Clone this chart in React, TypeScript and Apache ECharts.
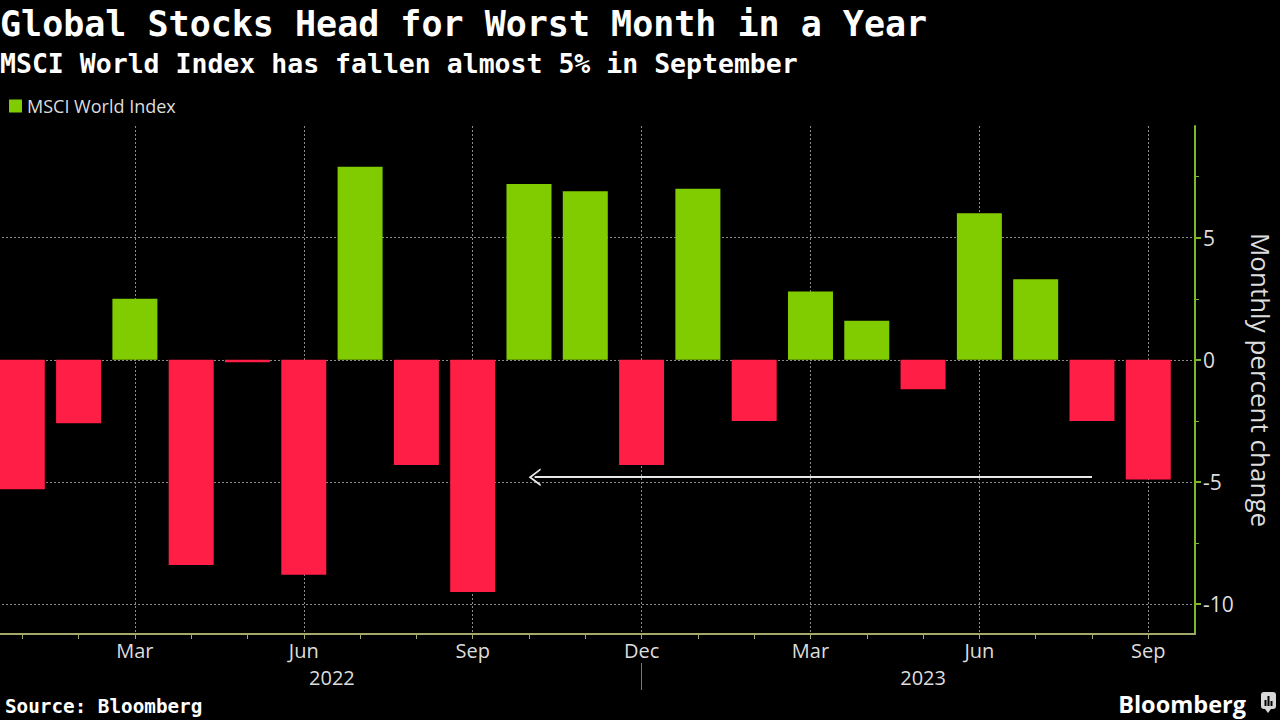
import React, { useEffect, useRef } from "react";
import * as echarts from "echarts";

// ---- data ----
const monthNames = ["Jan", "Feb", "Mar", "Apr", "May", "Jun", "Jul", "Aug", "Sep", "Oct", "Nov", "Dec",
  "Jan", "Feb", "Mar", "Apr", "May", "Jun", "Jul", "Aug", "Sep"];
const monthYears = ["2022", "2022", "2022", "2022", "2022", "2022", "2022", "2022", "2022", "2022", "2022", "2022",
  "2023", "2023", "2023", "2023", "2023", "2023", "2023", "2023", "2023"];
const monthlyChange = [-5.3, -2.6, 2.5, -8.4, -0.1, -8.8, 7.9, -4.3, -9.5, 7.2, 6.9, -4.3,
  7.0, -2.5, 2.8, 1.6, -1.2, 6.0, 3.3, -2.5, -4.9];
const quarterMonths = ["Mar", "Jun", "Sep", "Dec"];
const yearLabels = ["2022", "2023"];
const yMinorTicks = [-7.5, -2.5, 2.5, 7.5];
const yMin = -11.22;
const yMax = 9.57;
const xMin = -1;
const xMax = 20.83;
// annotation arrow (from Jul 2023 back to Sep 2022, at about -4.8)
const arrowFrom = 19.0;
const arrowTo = 9.1;
const arrowLevel = -4.8;

const GREEN = "#80cc00";
const RED = "#ff1e46";
const FONT = "'Open Sans', 'Noto Sans', sans-serif";
const MONO = "'DejaVu Sans Mono', 'Liberation Mono', monospace";

// year centers and separator derived from data
const yearCenters = yearLabels.map((y) => {
  const idx = monthYears.map((m, i) => (m === y ? i : -1)).filter((i) => i >= 0);
  return (idx[0] + idx[idx.length - 1]) / 2;
});
const yearSeparators = yearLabels.slice(0, -1).map((y) => monthYears.lastIndexOf(y));

export default function App() {
  const ref = useRef<HTMLDivElement>(null);
  useEffect(() => {
    if (!ref.current) return;
    const chart = echarts.init(ref.current, null, { renderer: "svg" });
    const option: any = {
      animation: false,
      backgroundColor: "#000000",
      title: [
        {
          text: "Global Stocks Head for Worst Month in a Year",
          left: 0, top: 6, padding: 0,
          textStyle: { color: "#ffffff", fontSize: 35, fontWeight: "bold", fontFamily: MONO },
        },
        {
          text: "MSCI World Index has fallen almost 5% in September",
          left: 0, top: 50, padding: 0,
          textStyle: { color: "#ffffff", fontSize: 26.5, fontWeight: "bold", fontFamily: MONO },
        },
      ],
      legend: {
        left: 9, top: 97, padding: 0,
        icon: "rect", itemWidth: 13, itemHeight: 13,
        textStyle: { color: "#dddddd", fontSize: 18, fontFamily: FONT },
        data: ["MSCI World Index"],
      },
      grid: { left: -34, right: 85, top: 126, bottom: 86, outerBoundsMode: "none" },
      xAxis: [
        {
          type: "value", min: xMin, max: xMax, interval: 1, position: "bottom",
          axisLine: { show: true, onZero: false, lineStyle: { color: "#a3a868", width: 2 } },
          axisTick: { show: true, length: 5, lineStyle: { color: "#a3a868" } },
          axisLabel: {
            margin: 6, color: "#dddddd", fontSize: 20, fontFamily: FONT,
            showMinLabel: false, showMaxLabel: false,
            formatter: (v: number) => {
              const i = Math.round(v);
              if (Math.abs(v - i) > 1e-6 || i < 0 || i >= monthNames.length) return "";
              return quarterMonths.includes(monthNames[i]) ? monthNames[i] : "";
            },
          },
          splitLine: { show: false },
        },
        {
          type: "value", min: xMin, max: xMax, interval: 3, position: "bottom",
          axisLine: { show: false, onZero: false },
          axisTick: { show: false },
          axisLabel: { show: false },
          splitLine: {
            show: true, showMinLine: false, showMaxLine: false,
            lineStyle: { color: "#8a8a8a", type: [2, 2], width: 1 },
          },
        },
        {
          type: "value", min: xMin, max: xMax, position: "bottom", offset: 29,
          axisLine: { show: false, onZero: false },
          axisTick: { show: true, customValues: yearSeparators, length: 27, lineStyle: { color: "#777777" } },
          axisLabel: {
            show: true, customValues: yearCenters, margin: 4,
            color: "#dddddd", fontSize: 20, fontFamily: FONT,
            formatter: (v: number) => {
              const k = yearCenters.findIndex((c) => Math.abs(c - v) < 1e-6);
              return k >= 0 ? yearLabels[k] : "";
            },
          },
          splitLine: { show: false },
        },
      ],
      yAxis: [
        {
          type: "value", min: yMin, max: yMax, position: "right",
          name: "Monthly percent change", nameLocation: "middle", nameRotate: -90, nameGap: 53,
          nameTextStyle: { color: "#dddddd", fontSize: 26, lineHeight: 26, fontFamily: FONT },
          axisLine: { show: true, onZero: false, lineStyle: { color: "#7cb82a", width: 2 } },
          axisTick: { show: true, length: 6, lineStyle: { color: "#7cb82a", width: 2 } },
          axisLabel: {
            margin: 8, color: "#dddddd", fontSize: 21, fontFamily: FONT,
            showMinLabel: false, showMaxLabel: false,
          },
          splitLine: {
            show: true, showMinLine: false, showMaxLine: false,
            lineStyle: { color: "#8a8a8a", type: [2, 2], width: 1 },
          },
        },
        {
          type: "value", min: yMin, max: yMax, position: "right",
          axisLine: { show: false, onZero: false },
          axisTick: { show: true, customValues: yMinorTicks, length: 4, lineStyle: { color: "#7cb82a" } },
          axisLabel: { show: false },
          splitLine: { show: false },
        },
      ],
      series: [
        {
          name: "MSCI World Index",
          type: "bar",
          xAxisIndex: 0,
          yAxisIndex: 0,
          barWidth: 45,
          itemStyle: { color: GREEN },
          data: monthlyChange.map((v, i) => ({
            value: [i, v],
            itemStyle: { color: v < 0 ? RED : GREEN },
          })),
          markLine: {
            silent: true,
            symbol: ["none", "path://M0,12 L10,0 L20,12 L17.6,12 L10,3 L2.4,12 Z"],
            symbolSize: [18, 12],
            label: { show: false },
            lineStyle: { color: "#e8e8e8", width: 2, type: "solid" },
            data: [[{ coord: [arrowFrom, arrowLevel] }, { coord: [arrowTo, arrowLevel] }]],
          },
        },
      ],
      graphic: [
        {
          type: "text", left: 5, bottom: 4,
          style: { text: "Source: Bloomberg", fill: "#ffffff", font: `bold 19.3px ${MONO}` },
        },
        {
          type: "text", right: 34, bottom: 4,
          style: { text: "Bloomberg", fill: "#ffffff", font: `bold 23.5px ${FONT}` },
        },
        {
          type: "group", right: 4, bottom: 7,
          children: [
            { type: "rect", shape: { x: 0, y: 0, width: 15, height: 17, r: 3 }, style: { fill: "#d8d8d8" } },
            { type: "polygon", shape: { points: [[4, 17], [10, 17], [7, 21]] }, style: { fill: "#d8d8d8" } },
            { type: "rect", shape: { x: 3.5, y: 8, width: 2, height: 6 }, style: { fill: "#000" } },
            { type: "rect", shape: { x: 6.5, y: 4, width: 2, height: 10 }, style: { fill: "#000" } },
            { type: "rect", shape: { x: 9.5, y: 9, width: 2, height: 5 }, style: { fill: "#000" } },
          ],
        },
      ],
    };
    chart.setOption(option);
    return () => chart.dispose();
  }, []);
  return <div ref={ref} style={{ width: 1280, height: 720, position: "absolute", left: 0, top: 0 }} />;
}
